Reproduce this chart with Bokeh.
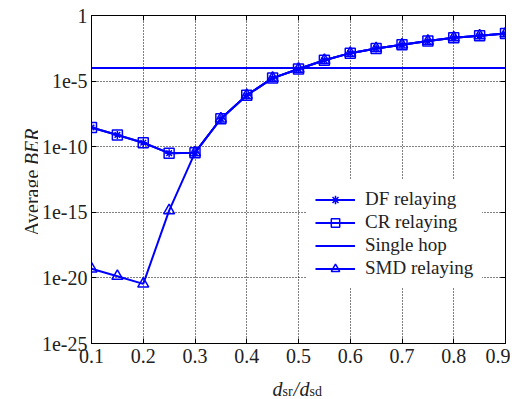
import math
from bokeh.plotting import figure
from bokeh.layouts import row, column
from bokeh.models import (FixedTicker, CustomJSTickFormatter, LinearAxis, LogAxis, Range1d)
from bokeh.core.properties import value
from bokeh.embed import file_html
from bokeh.resources import INLINE

# ---- data ----
x_vals = [0.1, 0.15, 0.2, 0.25, 0.3, 0.35, 0.4, 0.45, 0.5,
          0.55, 0.6, 0.65, 0.7, 0.75, 0.8, 0.85, 0.9]
cr_ber = [2.9e-9, 7.9e-10, 2.0e-10, 3.2e-11, 3.5e-11, 1.35e-8, 8.3e-7, 1.7e-5, 8.3e-5,
          3.9e-4, 1.35e-3, 3.1e-3, 5.9e-3, 1.12e-2, 2.04e-2, 2.9e-2, 4.2e-2]
df_ber = [2.9e-9, 7.9e-10, 2.0e-10, 3.2e-11, 3.5e-11, 1.35e-8, 8.3e-7, 1.7e-5, 8.3e-5,
          3.9e-4, 1.35e-3, 3.1e-3, 5.9e-3, 1.12e-2, 2.04e-2, 2.9e-2, 4.2e-2]
smd_ber = [5.0e-20, 1.35e-20, 3.5e-21, 1.35e-15, 3.5e-11, 1.35e-8, 8.3e-7, 1.7e-5, 8.3e-5,
           3.9e-4, 1.35e-3, 3.1e-3, 5.9e-3, 1.12e-2, 2.04e-2, 2.9e-2, 4.2e-2]
single_hop_ber = 1e-4
x_ticks = [0.1, 0.2, 0.3, 0.4, 0.5, 0.6, 0.7, 0.8, 0.9]
y_ticks = [1e-25, 1e-20, 1e-15, 1e-10, 1e-5, 1]

FONT = "'Liberation Serif', 'Times New Roman', serif"
BLUE = "#0000ff"
TXT = "#222222"

YLAB_W = 38
P_W, P_H = 472, 368

p = figure(width=P_W, height=P_H, y_axis_type="log",
           x_range=Range1d(0.1, 0.9), y_range=Range1d(1e-25, 1),
           output_backend="svg", toolbar_location=None,
           min_border_left=52, min_border_right=5, min_border_top=15, min_border_bottom=25)
p.background_fill_color = "white"
p.border_fill_color = "white"
p.outline_line_color = "black"
p.outline_line_width = 1

ytick_fmt = CustomJSTickFormatter(code="""
if (tick >= 0.5) { return "1"; }
return "1e-" + Math.round(-Math.log10(tick));
""")
blank_fmt = CustomJSTickFormatter(code="return '';")

for ax in p.xaxis:
    ax.ticker = FixedTicker(ticks=x_ticks)
for ax in p.yaxis:
    ax.ticker = FixedTicker(ticks=y_ticks)
    ax.formatter = ytick_fmt

def style_axis(ax):
    ax.axis_line_color = "black"
    ax.axis_line_width = 1
    ax.major_tick_in = 5
    ax.major_tick_out = 0
    ax.minor_tick_in = 0
    ax.minor_tick_out = 0
    ax.major_tick_line_color = "black"
    ax.major_label_text_font = FONT
    ax.major_label_text_font_size = "20px"
    ax.major_label_text_color = TXT

style_axis(p.xaxis[0])
p.xaxis[0].major_label_standoff = 5
style_axis(p.yaxis[0])
p.yaxis[0].major_label_standoff = 4

top_ax = LinearAxis(ticker=FixedTicker(ticks=x_ticks), formatter=blank_fmt)
style_axis(top_ax)
top_ax.major_label_standoff = 0
p.add_layout(top_ax, "above")
right_ax = LogAxis(ticker=FixedTicker(ticks=y_ticks), formatter=blank_fmt)
style_axis(right_ax)
right_ax.major_label_standoff = 0
p.add_layout(right_ax, "right")

for g in (p.xgrid[0], p.ygrid[0]):
    g.grid_line_color = "black"
    g.grid_line_dash = "1 2"
    g.grid_line_width = 1
p.xgrid[0].ticker = FixedTicker(ticks=x_ticks)
p.ygrid[0].ticker = FixedTicker(ticks=y_ticks)

# ---- series ----
p.line(x_vals, df_ber, color=BLUE, line_width=2, legend_label="DF relaying")
p.scatter(x_vals, df_ber, marker="asterisk", size=8, line_color=BLUE, line_width=1.5,
          legend_label="DF relaying")

p.line(x_vals, cr_ber, color=BLUE, line_width=2, legend_label="CR relaying")
p.scatter(x_vals, cr_ber, marker="square", size=10, line_color=BLUE, fill_alpha=0,
          line_width=1.5, legend_label="CR relaying")

p.line([x_vals[0], x_vals[-1]], [single_hop_ber, single_hop_ber], color=BLUE,
       line_width=2, legend_label="Single hop")

p.line(x_vals, smd_ber, color=BLUE, line_width=2, legend_label="SMD relaying")
p.scatter(x_vals, smd_ber, marker="triangle", size=11, line_color=BLUE, fill_alpha=0,
          line_width=1.5, legend_label="SMD relaying")

leg = p.legend[0]
leg.location = (215, 55)
leg.border_line_alpha = 0
leg.background_fill_color = "white"
leg.background_fill_alpha = 1
leg.label_text_font = FONT
leg.label_text_font_size = "19px"
leg.label_text_color = TXT
leg.glyph_width = 40
leg.glyph_height = 21
leg.label_height = 21
leg.spacing = 1
leg.padding = 9
leg.margin = 0
leg.label_standoff = 10

# ---- y axis title (separate small canvas, pixel coordinates, y downwards) ----
ylab = figure(width=YLAB_W, height=P_H, x_range=Range1d(0, YLAB_W), y_range=Range1d(P_H, 0),
              output_backend="svg", toolbar_location=None,
              x_axis_location=None, y_axis_location=None,
              min_border=0, outline_line_color=None)
ylab.grid.visible = False
ylab.text(x=[31], y=[173], text=["Average"], angle=math.pi / 2, text_align="right",
          text_baseline="alphabetic", text_font=value(FONT), text_font_size="20px",
          text_color=TXT)
ylab.text(x=[31], y=[168], text=["BER"], angle=math.pi / 2, text_align="left",
          text_baseline="alphabetic", text_font=value(FONT), text_font_size="20px",
          text_font_style="italic", text_color=TXT)

# ---- x axis title ----
XL_W, XL_H = YLAB_W + P_W, 30
xlab = figure(width=XL_W, height=XL_H, x_range=Range1d(0, XL_W),
              y_range=Range1d(P_H + XL_H, P_H),
              output_backend="svg", toolbar_location=None,
              x_axis_location=None, y_axis_location=None,
              min_border=0, outline_line_color=None)
xlab.grid.visible = False
xl_parts = [
    (272, 388, "d", "20px", "italic"),
    (282, 391, "sr", "14px", "normal"),
    (293, 388, "/", "20px", "italic"),
    (299, 388, "d", "20px", "italic"),
    (309, 391, "sd", "14px", "normal"),
]
for sx, sy, t, fs, st in xl_parts:
    xlab.text(x=[sx], y=[sy], text=[t], text_align="left", text_baseline="alphabetic",
              text_font=value(FONT), text_font_size=fs, text_font_style=st,
              text_color=TXT)

layout = column(row(ylab, p, spacing=0), xlab, spacing=0)
open("out.html", "w").write(file_html(layout, INLINE))
